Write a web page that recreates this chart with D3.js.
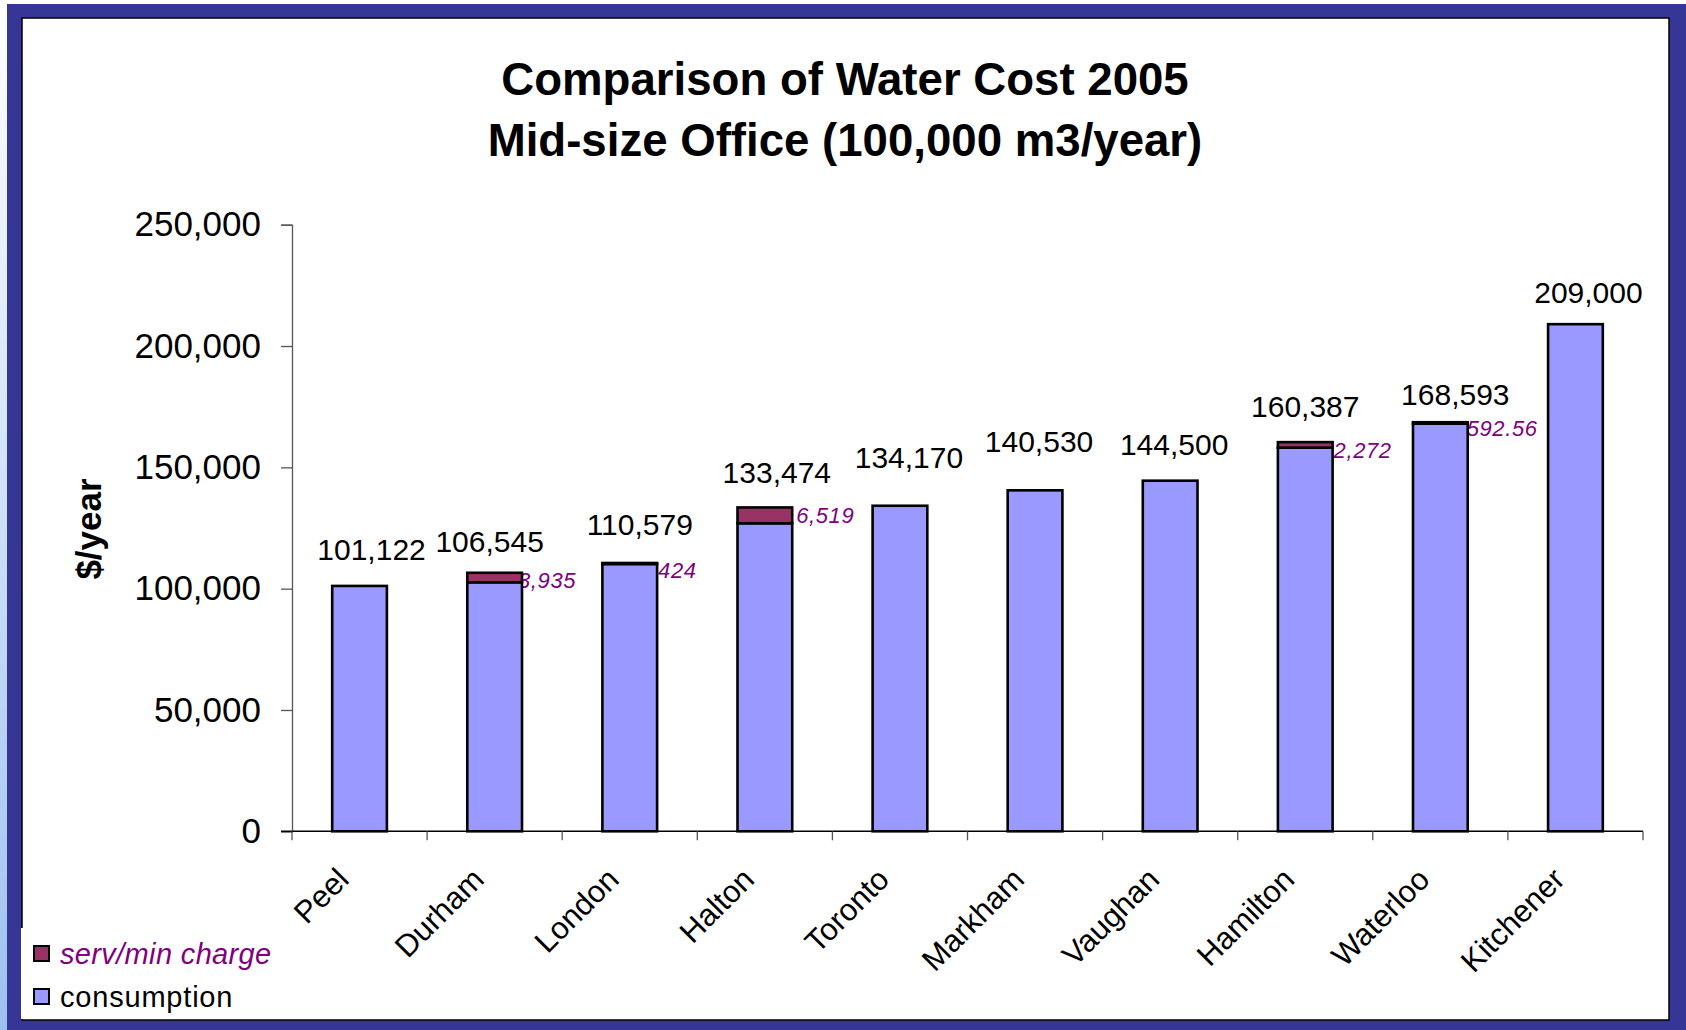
<!DOCTYPE html>
<html>
<head>
<meta charset="utf-8">
<script src="https://cdn.jsdelivr.net/npm/d3@7"></script>
<style>
  html, body { margin: 0; padding: 0; background: #ffffff; }
  svg { display: block; font-family: "Liberation Sans", Arial, sans-serif; }
</style>
</head>
<body>
<svg id="chart" width="1686" height="1030"></svg>
<script>
// Water cost per municipality, 2005 (mid-size office, 100,000 m3/year)
const categories = ["Peel", "Durham", "London", "Halton", "Toronto", "Markham", "Vaughan", "Hamilton", "Waterloo", "Kitchener"];
const totals = [101122, 106545, 110579, 133474, 134170, 140530, 144500, 160387, 168593, 209000];
const charges = [0, 3935, 424, 6519, 0, 0, 0, 2272, 592.56, 0];
const consumption = [101122, 102610, 110155, 126955, 134170, 140530, 144500, 158115, 168000.44, 209000];
const yTicks = [0, 50000, 100000, 150000, 200000, 250000];
const seriesNames = ["serv/min charge", "consumption"];

// Hand-placed nudges for the total labels (dx from bar centre, gap above bar top)
const totalLabelDx = [12, -5, 10, 12, 9, 4, 4, 0, 15, 13];
const totalLabelGap = [26, 21, 28, 24, 38, 38, 26, 25, 17, 21];
// Nudges for the charge labels (dx from bar right edge, dy from segment middle)
const chargeLabelDx = [0, -4, 1, 4, 0, 0, 0, 1, -1, 0];
const chargeLabelDy = [0, 3, 7, 0, 0, 0, 0, 5, 5, 0];

const W = 1686, H = 1030;
const svg = d3.select("#chart");

const frameBlue = "#363696";
const consFill = "#9999ff";
const chargeFill = "#993366";
const purple = "#800080";

// ---- slide frame ----
const defs = svg.append("defs");
const grad = defs.append("linearGradient").attr("id", "edgeGrad")
  .attr("x1", 0).attr("y1", 0).attr("x2", 0).attr("y2", 1);
grad.append("stop").attr("offset", "0%").attr("stop-color", "#ffffff");
grad.append("stop").attr("offset", "100%").attr("stop-color", "#9cc0f0");

svg.append("rect").attr("x", 0).attr("y", 0).attr("width", W).attr("height", H).attr("fill", "#ffffff");
svg.append("rect").attr("x", 0).attr("y", 4).attr("width", 7).attr("height", H - 4).attr("fill", "url(#edgeGrad)");
svg.append("rect").attr("x", 7).attr("y", 4).attr("width", W - 7).attr("height", H - 4).attr("fill", frameBlue);
svg.append("rect").attr("x", 22).attr("y", 18).attr("width", 1647).attr("height", 1002)
  .attr("fill", "#ffffff").attr("stroke", "#000000").attr("stroke-width", 1.5);
// legend panel sits over the frame's lower-left edge
svg.append("rect").attr("x", 21).attr("y", 928).attr("width", 260).attr("height", 91).attr("fill", "#ffffff");

// ---- scales ----
const x = d3.scaleBand().domain(categories).range([292, 1643]).paddingInner(0).paddingOuter(0);
const y = d3.scaleLinear().domain([0, 250000]).range([831.3, 224.7]);
const barW = x.bandwidth() * 0.405;
const cx = c => x(c) + x.bandwidth() / 2;

// ---- title ----
const title = svg.append("text").attr("text-anchor", "middle").attr("font-weight", "bold")
  .attr("font-size", 45.6).attr("fill", "#000");
title.append("tspan").attr("x", 845).attr("y", 95).text("Comparison of Water Cost 2005");
title.append("tspan").attr("x", 845).attr("y", 156).text("Mid-size Office (100,000 m3/year)");

// ---- y axis ----
const yAxis = svg.append("g").attr("transform", "translate(292,0)")
  .call(d3.axisLeft(y).tickValues(yTicks).tickSize(11).tickPadding(20).tickFormat(d3.format(",")));
yAxis.select(".domain").attr("stroke", "#555").attr("stroke-width", 1.3);
yAxis.selectAll(".tick line").attr("stroke", "#555").attr("stroke-width", 1.3);
yAxis.selectAll(".tick text").attr("font-size", 35).attr("fill", "#000")
  .attr("font-family", "Liberation Sans, Arial, sans-serif");

svg.append("text").attr("transform", "translate(101,529) rotate(-90)")
  .attr("text-anchor", "middle").attr("font-weight", "bold").attr("font-size", 35)
  .text("$/year");

// ---- x axis: baseline, boundary ticks, rotated labels ----
svg.append("line").attr("x1", 281).attr("x2", 1643).attr("y1", y(0)).attr("y2", y(0))
  .attr("stroke", "#000").attr("stroke-width", 1.5);
const boundaries = categories.map(c => x(c)).concat([x(categories[categories.length - 1]) + x.bandwidth()]);
svg.selectAll("line.xtick").data(boundaries).join("line").attr("class", "xtick")
  .attr("x1", d => d).attr("x2", d => d).attr("y1", y(0)).attr("y2", y(0) + 9)
  .attr("stroke", "#555").attr("stroke-width", 1.3);
svg.selectAll("text.cat").data(categories).join("text").attr("class", "cat")
  .attr("transform", d => `translate(${cx(d) - 9},${y(0) + 50}) rotate(-45)`)
  .attr("text-anchor", "end").attr("font-size", 31).attr("fill", "#000")
  .text(d => d);

// ---- charge labels (under the bars) ----
const fmt = d3.format(",");
const chargeIdx = charges.map((v, i) => i).filter(i => charges[i] > 0);
svg.selectAll("text.chg").data(chargeIdx).join("text").attr("class", "chg")
  .attr("x", i => cx(categories[i]) + barW / 2 + chargeLabelDx[i])
  .attr("y", i => (y(consumption[i]) + y(totals[i])) / 2 + chargeLabelDy[i])
  .attr("dy", "0.35em").attr("font-size", 22).attr("font-style", "italic")
  .attr("letter-spacing", 0.6).attr("fill", purple)
  .text(i => fmt(charges[i]));

// ---- bars ----
const bars = svg.append("g");
bars.selectAll("rect.cons").data(categories).join("rect").attr("class", "cons")
  .attr("x", c => cx(c) - barW / 2).attr("width", barW)
  .attr("y", (c, i) => y(consumption[i])).attr("height", (c, i) => y(0) - y(consumption[i]))
  .attr("fill", consFill).attr("stroke", "#000").attr("stroke-width", 2.6);
bars.selectAll("rect.chg").data(chargeIdx).join("rect").attr("class", "chg")
  .attr("x", i => cx(categories[i]) - barW / 2).attr("width", barW)
  .attr("y", i => y(totals[i])).attr("height", i => y(consumption[i]) - y(totals[i]))
  .attr("fill", chargeFill).attr("stroke", "#000").attr("stroke-width", 2.6);

// ---- total labels ----
svg.selectAll("text.tot").data(categories).join("text").attr("class", "tot")
  .attr("x", (c, i) => cx(c) + totalLabelDx[i])
  .attr("y", (c, i) => y(totals[i]) - totalLabelGap[i])
  .attr("text-anchor", "middle").attr("font-size", 30).attr("fill", "#000")
  .text((c, i) => fmt(totals[i]));

// ---- legend ----
const legend = svg.append("g");
const legendItems = [
  { name: seriesNames[0], fill: chargeFill, color: purple, italic: true, spacing: 0.35, y: 954 },
  { name: seriesNames[1], fill: consFill, color: "#000", italic: false, spacing: 0.8, y: 997 }
];
legend.selectAll("rect").data(legendItems).join("rect")
  .attr("x", 34).attr("y", d => d.y - 8).attr("width", 15).attr("height", 15)
  .attr("fill", d => d.fill).attr("stroke", "#000").attr("stroke-width", 2);
legend.selectAll("text").data(legendItems).join("text")
  .attr("x", 60).attr("y", d => d.y).attr("dy", "0.35em")
  .attr("font-size", 29).attr("letter-spacing", d => d.spacing)
  .attr("font-style", d => d.italic ? "italic" : "normal")
  .attr("fill", d => d.color).text(d => d.name);
</script>
</body>
</html>
